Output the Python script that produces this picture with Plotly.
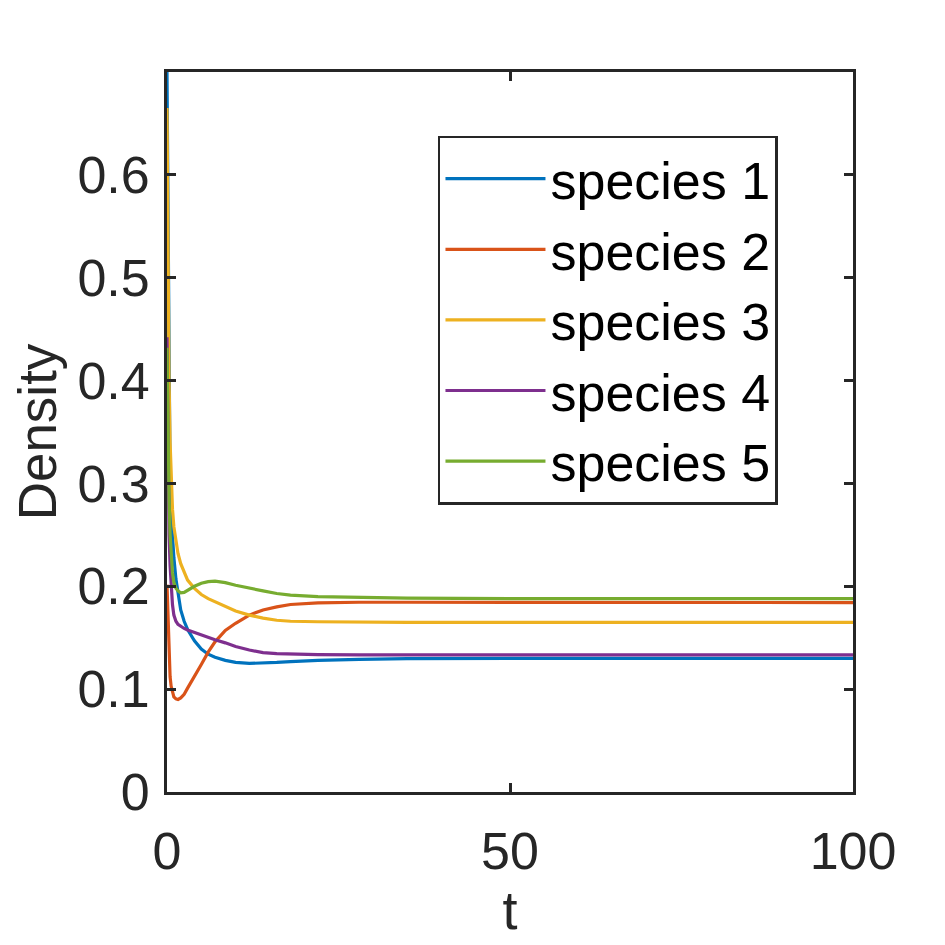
import plotly.graph_objects as go

# time points (shared)
t = [0, 0.1, 0.2, 0.3, 0.45, 0.6, 0.8, 1.0, 1.3, 1.6, 2.0, 2.5, 3.0, 4.0, 5.0, 6.0,
     7.0, 8.5, 10, 12, 14, 16, 18, 22, 28, 35, 50, 70, 100]

species1 = [0.700, 0.580, 0.480, 0.410, 0.300, 0.270, 0.248, 0.228, 0.207, 0.192, 0.177,
            0.166, 0.158, 0.147, 0.139, 0.134, 0.131, 0.128, 0.126, 0.125, 0.1252, 0.126,
            0.1268, 0.128, 0.129, 0.1297, 0.130, 0.130, 0.130]
species2 = [0.2016, 0.175, 0.150, 0.130, 0.112, 0.103, 0.096, 0.0925, 0.0905, 0.090, 0.0915,
            0.095, 0.101, 0.112, 0.124, 0.136, 0.146, 0.157, 0.164, 0.172, 0.177, 0.180,
            0.1823, 0.1838, 0.1845, 0.1845, 0.1843, 0.1842, 0.1842]
species3 = [0.665, 0.550, 0.460, 0.400, 0.340, 0.305, 0.275, 0.258, 0.243, 0.232, 0.222,
            0.213, 0.206, 0.198, 0.192, 0.188, 0.185, 0.180, 0.176, 0.172, 0.169, 0.167,
            0.166, 0.1655, 0.165, 0.165, 0.165, 0.165, 0.165]
species4 = [0.442, 0.360, 0.295, 0.250, 0.220, 0.200, 0.182, 0.172, 0.166, 0.163, 0.161,
            0.159, 0.1575, 0.155, 0.1525, 0.150, 0.148, 0.145, 0.1415, 0.138, 0.1355, 0.1345,
            0.134, 0.1335, 0.1333, 0.1333, 0.1333, 0.1333, 0.1333]
species5 = [0.432, 0.370, 0.320, 0.285, 0.250, 0.230, 0.213, 0.204, 0.198, 0.1955, 0.1937,
            0.194, 0.196, 0.200, 0.203, 0.2045, 0.205, 0.2035, 0.201, 0.198, 0.1955, 0.193,
            0.1915, 0.190, 0.189, 0.1885, 0.188, 0.188, 0.188]

names = ["species 1", "species 2", "species 3", "species 4", "species 5"]
series = [species1, species2, species3, species4, species5]
colors = ["#0072BD", "#D95319", "#EDB120", "#7E2F8E", "#77AC30"]

x_ticks = [0, 50, 100]
y_ticks = [0, 0.1, 0.2, 0.3, 0.4, 0.5, 0.6]

FONT = "Liberation Sans, Arial, sans-serif"
AXC = "#262626"

fig = go.Figure()
for name, ys, c in zip(names, series, colors):
    fig.add_trace(go.Scatter(x=t, y=ys, mode="lines", name=name,
                             line=dict(color=c, width=3.2)))

fig.update_layout(
    width=945, height=945,
    margin=dict(l=159, r=100, t=64, b=161),
    paper_bgcolor="white", plot_bgcolor="white",
    font=dict(family=FONT, size=52, color=AXC),
    showlegend=True,
    legend=dict(
        x=0.395, y=0.655, xanchor="left", yanchor="middle",
        bgcolor="white", bordercolor=AXC, borderwidth=2.5,
        font=dict(family=FONT, size=52, color="black"),
        itemwidth=100, tracegroupgap=0,
    ),
)
fig.update_xaxes(
    range=[0, 100], tickvals=x_ticks, ticks="inside", ticklen=9, tickwidth=2.5,
    tickcolor=AXC, showline=True, linecolor=AXC, linewidth=2.8, mirror="ticks",
    showgrid=False, zeroline=False, automargin=False, ticklabelstandoff=12,
    title=dict(text="t", font=dict(size=54, color=AXC), standoff=2),
)
fig.update_yaxes(
    range=[0, 0.7], tickvals=y_ticks, ticks="inside", ticklen=9, tickwidth=2.5,
    tickcolor=AXC, showline=True, linecolor=AXC, linewidth=2.8, mirror="ticks",
    showgrid=False, zeroline=False, automargin=False, ticklabelstandoff=4,
    title=dict(text="Density", font=dict(size=53, color=AXC), standoff=10),
)

fig.write_html("out.html")
